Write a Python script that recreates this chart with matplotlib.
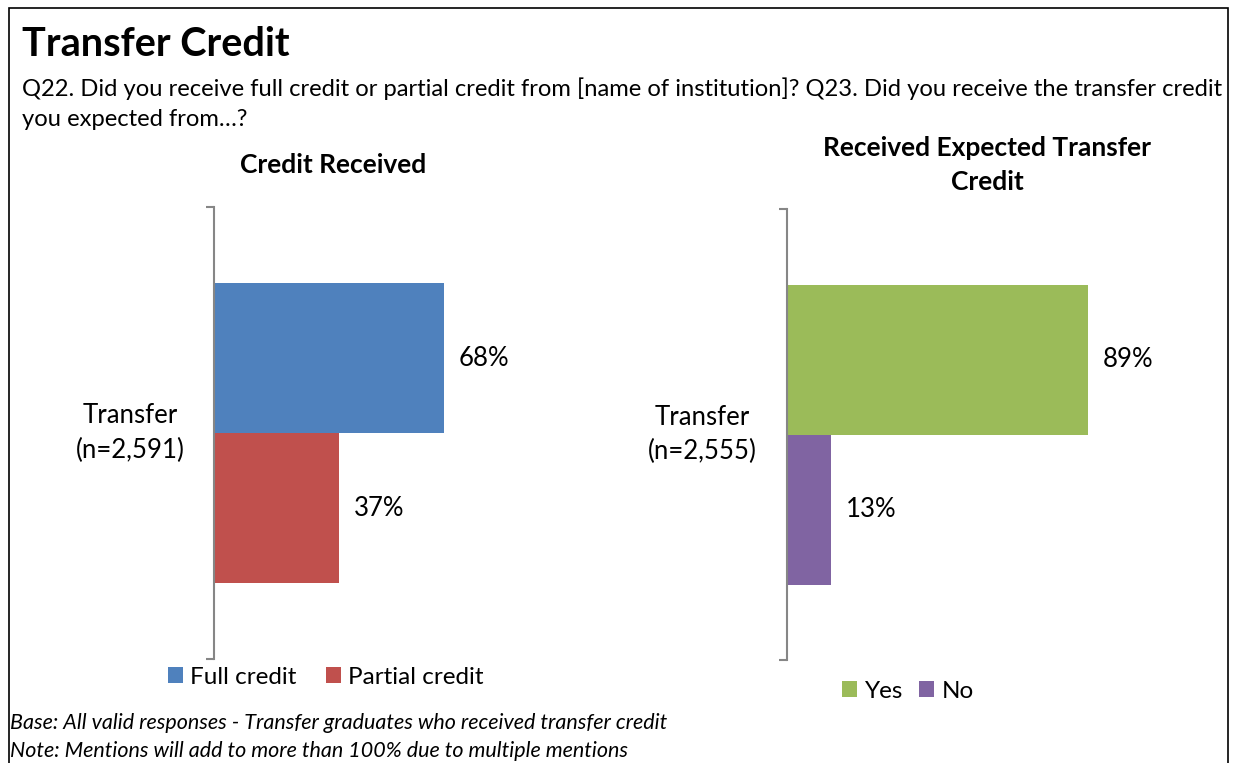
import matplotlib.pyplot as plt
import matplotlib.patches as patches

plt.rcParams['font.family'] = ['Lato', 'DejaVu Sans']

# data
category_left = 'Transfer\n(n=2,591)'
series_left = ['Full credit', 'Partial credit']
values_left = [68, 37]
colors_left = ['#4F81BD', '#C0504D']

category_right = 'Transfer\n(n=2,555)'
series_right = ['Yes', 'No']
values_right = [89, 13]
colors_right = ['#9BBB59', '#8064A2']

W, H = 1235, 763
fig = plt.figure(figsize=(W / 100, H / 100), dpi=100)


def fx(px):
    return px / W


def fy(py):
    return 1 - py / H


# outer frame
fig.patches.append(patches.Rectangle((fx(9), -0.02), fx(1228) - fx(9), fy(8) + 0.02,
                                     transform=fig.transFigure, fill=False,
                                     edgecolor='black', linewidth=1.2))

fig.text(fx(22), fy(45), 'Transfer Credit', fontsize=28.5, fontweight='bold', va='center')
fig.text(fx(22), fy(89), 'Q22. Did you receive full credit or partial credit from [name of institution]? '
         'Q23. Did you receive the transfer credit', fontsize=17.1, va='center')
fig.text(fx(22), fy(119), 'you expected from\u2026?', fontsize=17.1, va='center')


def panel(x0, y0, y1, title, title_x, title_y, cat, cat_x, names, vals, cols, leg_xy, colsp):
    ax = fig.add_axes([fx(x0), fy(y1), 338 / W, (y1 - y0) / H])
    ypos = [0.25, -0.25]
    for n, v, c, yp in zip(names, vals, cols, ypos):
        ax.barh(yp, v, height=0.5, color=c, label=n)
        ax.text(v + 4.5, yp, f'{v}%', va='center', ha='left', fontsize=18.5)
    lim = 0.5 * (y1 - y0) / 300
    ax.set_ylim(-lim, lim)
    ax.set_xlim(0, 100)
    for s in ['top', 'right', 'bottom']:
        ax.spines[s].set_visible(False)
    ax.spines['left'].set_color('#868686')
    ax.spines['left'].set_linewidth(1.5)
    ax.set_xticks([])
    ax.set_yticks([-lim, lim], labels=['', ''])
    ax.tick_params(axis='y', length=6, width=1.5, color='#868686')
    ax.text((cat_x - x0) / 338, 0.5, cat, transform=ax.transAxes, ha='center', va='center',
            fontsize=18.5, linespacing=1.45)
    fig.text(fx(title_x), fy(title_y), title, ha='center', va='center',
             fontsize=19, fontweight='bold', linespacing=1.5)
    ax.legend(loc='center', bbox_to_anchor=(fx(leg_xy[0]), fy(leg_xy[1])),
              bbox_transform=fig.transFigure, ncol=2, frameon=False, fontsize=17.5,
              handlelength=0.62, handleheight=0.62, handletextpad=0.3, columnspacing=colsp)
    return ax


panel(214, 207, 659, 'Credit Received', 333, 165, category_left, 130,
      series_left, values_left, colors_left, (326, 677), 1.2)
panel(787, 209, 660, 'Received Expected Transfer\nCredit', 987, 165, category_right, 702,
      series_right, values_right, colors_right, (908, 691), 0.65)

fig.text(fx(10), fy(723), 'Base: All valid responses - Transfer graduates who received transfer credit',
         fontsize=15.5, style='italic', va='center')
fig.text(fx(10), fy(751), 'Note: Mentions will add to more than 100% due to multiple mentions',
         fontsize=15.5, style='italic', va='center')

fig.savefig('out.png', dpi=100)
